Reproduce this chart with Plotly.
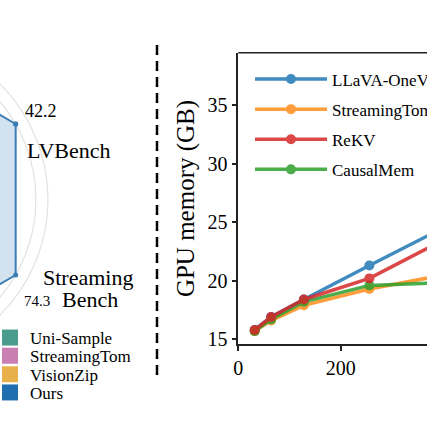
import numpy as np
import plotly.graph_objects as go

# ---- left panel: radar of accuracy (only its right rim is inside the crop) ----
BENCHMARKS = ["LVBench", "MLVU", "VideoMME", "EgoSchema", "MVBench", "StreamingBench"]
RADAR_METHODS = ["Uni-Sample", "StreamingTom", "VisionZip", "Ours"]
UNI_SAMPLE = [38.1, 62.0, 56.5, 58.0, 55.8, 69.5]
STREAMINGTOM_ACC = [39.6, 64.5, 58.0, 59.5, 57.0, 71.2]
VISIONZIP = [39.0, 63.8, 57.2, 59.0, 56.4, 70.6]
OURS = [42.2, 67.9, 60.4, 62.1, 59.3, 74.3]

# ---- right panel: GPU memory vs. number of frames ----
FRAMES = [32, 64, 128, 256, 512]
LLAVA_OV = [15.8, 16.9, 18.4, 21.3, 27.0]
STREAMINGTOM_MEM = [15.7, 16.6, 17.9, 19.3, 21.4]
REKV = [15.8, 16.9, 18.4, 20.2, 26.0]
CAUSALMEM = [15.7, 16.7, 18.2, 19.6, 20.0]

W, H = 427, 426
SERIF = "Liberation Serif, Times New Roman, serif"
RADAR_COLORS = ["#4a9c8c", "#c97fb1", "#e8b04a", "#1f6fb0"]
LINE_COLORS = {"LLaVA-OneVision": "#1f77b4", "StreamingTom": "#ff8c1a",
               "ReKV": "#d62728", "CausalMem": "#2ca02c"}

# where the radar sits in the crop (pixels): centre and unit radius
R_PX, CX_PX, CY_PX = 151.0, -115.1, 199.5
RADAR_RIGHT_PX = 157.0
# line-chart axes box in pixels
AX_LEFT, AX_BOTTOM, AX_TOP = 238.3, 344.3, 52.7
X_PER_PX = 200 / 102.4
Y_PER_PX = 20 / 234.3


def radar_xy(values, lo, hi, angles):
    r = (np.asarray(values) - lo) / (hi - lo)
    r = np.append(r, r[0])
    a = np.append(angles, angles[0])
    return r * np.cos(a), r * np.sin(a)


series = [UNI_SAMPLE, STREAMINGTOM_ACC, VISIONZIP, OURS]
table = np.array(series)
lo = 0.9 * table.min(axis=0)
hi = table.max(axis=0)
angles = np.radians(30 + 60 * np.arange(len(BENCHMARKS)))

fig = go.Figure()

legend_boxes = {}
for k, (name, vals, color) in enumerate(zip(RADAR_METHODS, series, RADAR_COLORS)):
    x, y = radar_xy(vals, lo, hi, angles)
    rgb = tuple(int(color[i:i + 2], 16) for i in (1, 3, 5))
    is_ours = name == "Ours"
    fig.add_trace(go.Scatter(
        x=x, y=y, xaxis="x", yaxis="y", mode="lines+markers", fill="toself",
        fillcolor=f"rgba({rgb[0]},{rgb[1]},{rgb[2]},{0.2 if is_ours else 0.12})",
        line=dict(color="#3b7db3" if is_ours else color, width=2),
        marker=dict(size=5, color="#3b7db3" if is_ours else color),
        showlegend=False, hoverinfo="skip"))
    # one small legend per patch so the rows can sit as tight as in the original
    lg = f"legend{k + 2}"
    fig.add_trace(go.Scatter(
        x=[None], y=[None], xaxis="x", yaxis="y", mode="markers", name=name,
        marker=dict(symbol="square", size=16, color=color), legend=lg))
    legend_boxes[lg] = dict(x=-10 / W, y=1 - (320 + 18.3 * k) / H, xanchor="left", yanchor="top",
                            bgcolor="rgba(0,0,0,0)", font=dict(size=17, family=SERIF),
                            itemwidth=30)

# value labels for Ours on the two visible spokes
ours_x, ours_y = radar_xy(OURS, lo, hi, angles)
i_lv, i_sb = BENCHMARKS.index("LVBench"), BENCHMARKS.index("StreamingBench")
fig.add_annotation(x=ours_x[i_lv], y=ours_y[i_lv], xref="x", yref="y", text=f"{OURS[i_lv]:.1f}",
                   showarrow=False, xshift=25, yshift=13, font=dict(size=18))
fig.add_annotation(x=ours_x[i_lv], y=ours_y[i_lv], xref="x", yref="y", text="LVBench",
                   showarrow=False, xshift=53, yshift=-26, font=dict(size=22))
fig.add_annotation(x=ours_x[i_sb], y=ours_y[i_sb], xref="x", yref="y", text="Streaming",
                   showarrow=False, xshift=72, yshift=-2, font=dict(size=22))
fig.add_annotation(x=ours_x[i_sb], y=ours_y[i_sb], xref="x", yref="y", text="Bench",
                   showarrow=False, xshift=74, yshift=-24, font=dict(size=22))
fig.add_annotation(x=ours_x[i_sb], y=ours_y[i_sb], xref="x", yref="y", text=f"{OURS[i_sb]:.1f}",
                   showarrow=False, xshift=21, yshift=-26, font=dict(size=15))

# radar grid rings
for r in (0.25, 0.5, 0.75, 1.0, 1.08):
    fig.add_shape(type="circle", xref="x", yref="y", x0=-r, y0=-r, x1=r, y1=r,
                  line=dict(color="#e2e2e2", width=1.2), layer="below")

# memory curves (ReKV drawn last so it sits on top, legend order kept)
ranks = {"LLaVA-OneVision": 1, "StreamingTom": 2, "ReKV": 3, "CausalMem": 4}
for name, vals in [("LLaVA-OneVision", LLAVA_OV), ("StreamingTom", STREAMINGTOM_MEM),
                   ("CausalMem", CAUSALMEM), ("ReKV", REKV)]:
    fig.add_trace(go.Scatter(
        x=FRAMES, y=vals, xaxis="x2", yaxis="y2", mode="lines+markers", name=name,
        legendrank=ranks[name], legendgroup=name, opacity=0.85,
        line=dict(color=LINE_COLORS[name], width=3.5), marker=dict(size=10, color=LINE_COLORS[name])))

# dashed separator between the panels
fig.add_shape(type="line", xref="paper", yref="paper", x0=157 / W, x1=157 / W,
              y0=1 - 45 / H, y1=1 - 378 / H, line=dict(color="black", width=2.5, dash="10px,6px"))
# top spine of the memory plot
fig.add_shape(type="line", xref="x2 domain", yref="y2 domain", x0=0, x1=1, y0=1, y1=1,
              line=dict(color="#222", width=1.5))

fig.update_layout(
    width=W, height=H, margin=dict(l=0, r=0, t=0, b=0, autoexpand=False),
    paper_bgcolor="white", plot_bgcolor="white",
    font=dict(family=SERIF, color="black"),
    xaxis=dict(domain=[0, RADAR_RIGHT_PX / W], range=[(0 - CX_PX) / R_PX, (RADAR_RIGHT_PX - CX_PX) / R_PX],
               visible=False, fixedrange=True),
    yaxis=dict(domain=[0, 1], range=[(CY_PX - H) / R_PX, CY_PX / R_PX], visible=False, fixedrange=True),
    xaxis2=dict(domain=[AX_LEFT / W, 1], range=[0, (W - AX_LEFT) * X_PER_PX], anchor="y2",
                tickvals=[0, 200], showline=True, linecolor="#222", linewidth=1.5,
                ticks="outside", ticklen=5, tickwidth=1.5, tickcolor="#222",
                showgrid=False, zeroline=False, tickfont=dict(size=20), automargin=False),
    yaxis2=dict(domain=[1 - AX_BOTTOM / H, 1 - AX_TOP / H],
                range=[15 - (AX_BOTTOM - 339.3) * Y_PER_PX, 35 + (105 - AX_TOP) * Y_PER_PX],
                anchor="x2", tickvals=[15, 20, 25, 30, 35], showline=True, linecolor="#222",
                linewidth=1.5, ticks="outside", ticklen=5, tickwidth=1.5, tickcolor="#222",
                showgrid=False, zeroline=False, tickfont=dict(size=20), automargin=False,
                title=dict(text="GPU memory (GB)", font=dict(size=25), standoff=6)),
    legend=dict(x=250 / W, y=1 - 61.5 / H, xanchor="left", yanchor="top", bgcolor="rgba(0,0,0,0)",
                font=dict(size=17, family=SERIF), itemwidth=72, tracegroupgap=5),
    **legend_boxes,
)

# the page body has an 8px default margin; drop it so the figure fills the window
fig.write_html("out.html", config={"displayModeBar": False},
               post_script="document.body.style.margin='0';")
